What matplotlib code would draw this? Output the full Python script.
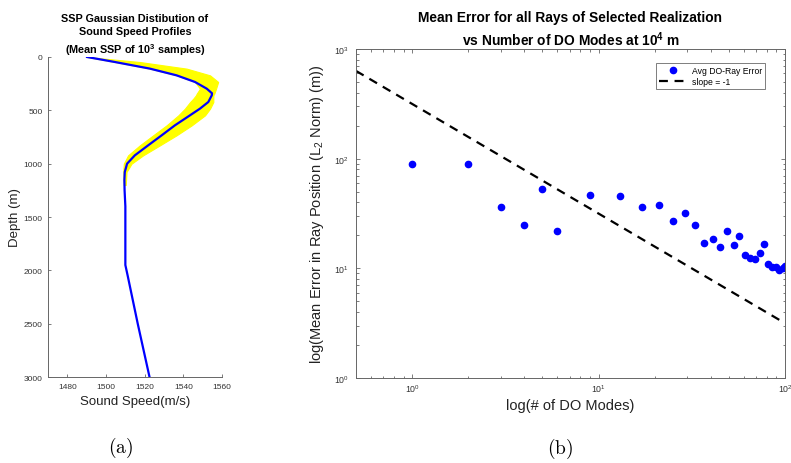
import numpy as np
import matplotlib
matplotlib.use("Agg")
import matplotlib.pyplot as plt
from matplotlib.ticker import LogLocator, NullFormatter

plt.rcParams['font.family'] = ['Liberation Sans', 'DejaVu Sans']
plt.rcParams['mathtext.fontset'] = 'custom'
plt.rcParams['mathtext.rm'] = 'Liberation Sans'
plt.rcParams['mathtext.bf'] = 'Liberation Sans:bold'

# --- panel (a): mean sound speed profile and spread of samples ---
mean_depth = [0, 47, 109, 172, 234, 297, 340, 359, 422, 484, 547, 641, 734,
              828, 922, 1000, 1078, 1150, 1250, 1400, 1950, 2050, 2500, 3000]
mean_speed = [1490.2, 1504.6, 1522.7, 1536.5, 1546, 1552.1, 1554.8, 1554.7,
              1552.9, 1548.6, 1543.4, 1535.6, 1528.8, 1521.8, 1514.9, 1510.9,
              1509.7, 1509.5, 1509.6, 1510, 1510, 1511.2, 1516.4, 1522.5]

band_depth = [0, 47, 109, 172, 234, 297, 344, 359, 391, 422, 484, 547, 641,
              734, 828, 922, 1000, 1078, 1200]
band_hi = [1490.2, 1517.5, 1541.7, 1553.8, 1558, 1556.9, 1556, 1555.5,
           1555.5, 1555.5, 1553.8, 1551.2, 1544.3, 1536.5, 1527.9, 1519.2,
           1513.2, 1510.6, 1510.2]
band_lo = [1490.2, 1504.6, 1522.7, 1536.5, 1546, 1548.6, 1546.9, 1546.5,
           1545.1, 1543.5, 1540.8, 1537.4, 1531.3, 1524.4, 1517.5, 1511.4,
           1509.2, 1508.9, 1509.2]

# --- panel (b): mean ray error vs number of DO modes ---
n_modes = [1, 2, 3, 4, 5, 6, 9, 13, 17, 21, 25, 29, 33, 37, 41, 45, 49, 53,
           57, 61, 65, 69, 73, 77, 81, 85, 89, 93, 97, 100]
mean_err = [89.5, 89.5, 35.9, 24.6, 52.6, 21.8, 46.8, 45.8, 35.9, 38.2,
            27.1, 31.8, 24.6, 17.1, 18.7, 15.8, 21.8, 16.4, 19.7, 13.1,
            12.3, 12.1, 13.9, 16.5, 10.9, 10.2, 10.2, 9.6, 10.0, 10.4]
slope_x = [0.5, 100]
slope_c = 316.0

axis_col = '#666666'
tick_col = '#333333'

fig = plt.figure(figsize=(7.91, 4.64), dpi=100)

# left panel
ax0 = fig.add_axes([0.0607, 0.1853, 0.2200, 0.6897])
ax0.fill_betweenx(band_depth, band_lo, band_hi, color='#ffff00', lw=0.8,
                  edgecolor='#ffff00')
ax0.plot(mean_speed, mean_depth, color='#0000ff', lw=1.6)
ax0.set_xlim(1470, 1560)
ax0.set_ylim(3000, 0)
ax0.set_xticks([1480, 1500, 1520, 1540, 1560])
ax0.set_yticks([0, 500, 1000, 1500, 2000, 2500, 3000])
for s in ['top', 'right']:
    ax0.spines[s].set_visible(False)
for s in ['left', 'bottom']:
    ax0.spines[s].set_color(axis_col)
    ax0.spines[s].set_linewidth(0.7)
ax0.tick_params(direction='in', length=2.5, width=0.6, color=axis_col,
                labelsize=6, labelcolor=tick_col, pad=4)
ax0.set_xlabel('Sound Speed(m/s)', fontsize=9.5, color='#222222', labelpad=4)
ax0.set_ylabel('Depth (m)', fontsize=9.5, color='#222222', labelpad=2)
ax0.set_title('SSP Gaussian Distibution of\nSound Speed Profiles\n'
              r'(Mean SSP of $\mathbf{10^3}$ samples)',
              fontsize=7.8, fontweight='bold', pad=2, linespacing=1.42)

# right panel
ax1 = fig.add_axes([0.4500, 0.1832, 0.5424, 0.7090])
ax1.set_xscale('log')
ax1.set_yscale('log')
ax1.plot(n_modes, mean_err, 'o', color='#0000ff', ms=4.5, mec='#0000ff',
         label='Avg DO-Ray Error')
ax1.plot(slope_x, [slope_c / v for v in slope_x], '--', color='black',
         lw=1.6, dashes=(4, 3), label='slope = -1')
ax1.set_xlim(0.5, 100)
ax1.set_ylim(1, 1000)
ax1.xaxis.set_major_locator(LogLocator(base=10, numticks=10))
ax1.yaxis.set_major_locator(LogLocator(base=10, numticks=10))
ax1.xaxis.set_minor_formatter(NullFormatter())
ax1.yaxis.set_minor_formatter(NullFormatter())
for s in ax1.spines.values():
    s.set_color(axis_col)
    s.set_linewidth(0.7)
ax1.tick_params(which='both', direction='in', top=True, right=True,
                color=axis_col, width=0.6, labelcolor=tick_col)
ax1.tick_params(which='major', length=3, labelsize=6.3)
ax1.tick_params(axis='x', which='major', pad=3)
ax1.tick_params(axis='y', which='major', pad=5)
ax1.tick_params(which='minor', length=1.8)
ax1.set_xlabel('log(# of DO Modes)', fontsize=10.5, color='#222222',
               labelpad=3)
ax1.set_ylabel(r'log(Mean Error in Ray Position (L$_2$ Norm) (m))',
               fontsize=10.5, color='#222222', labelpad=6)
ax1.set_title('Mean Error for all Rays of Selected Realization\n'
              r'vs Number of DO Modes at $\mathbf{10^4}$ m',
              fontsize=9.9, fontweight='bold', pad=3, linespacing=1.35)
leg = ax1.legend(loc='upper right', bbox_to_anchor=(0.963, 0.972),
                 fontsize=6.2, frameon=True, fancybox=False,
                 handlelength=3.2, handletextpad=0.6, borderpad=0.35,
                 labelspacing=0.3)
leg.get_frame().set_edgecolor('#444444')
leg.get_frame().set_linewidth(0.6)

# sub-figure captions
plt.rcParams['mathtext.fontset'] = 'cm'
fig.text(0.152, 0.0345, r'$\mathrm{(a)}$', ha='center', va='center',
         fontsize=14)
fig.text(0.708, 0.0325, r'$\mathrm{(b)}$', ha='center', va='center',
         fontsize=14)

fig.savefig('out.png', dpi=100)
